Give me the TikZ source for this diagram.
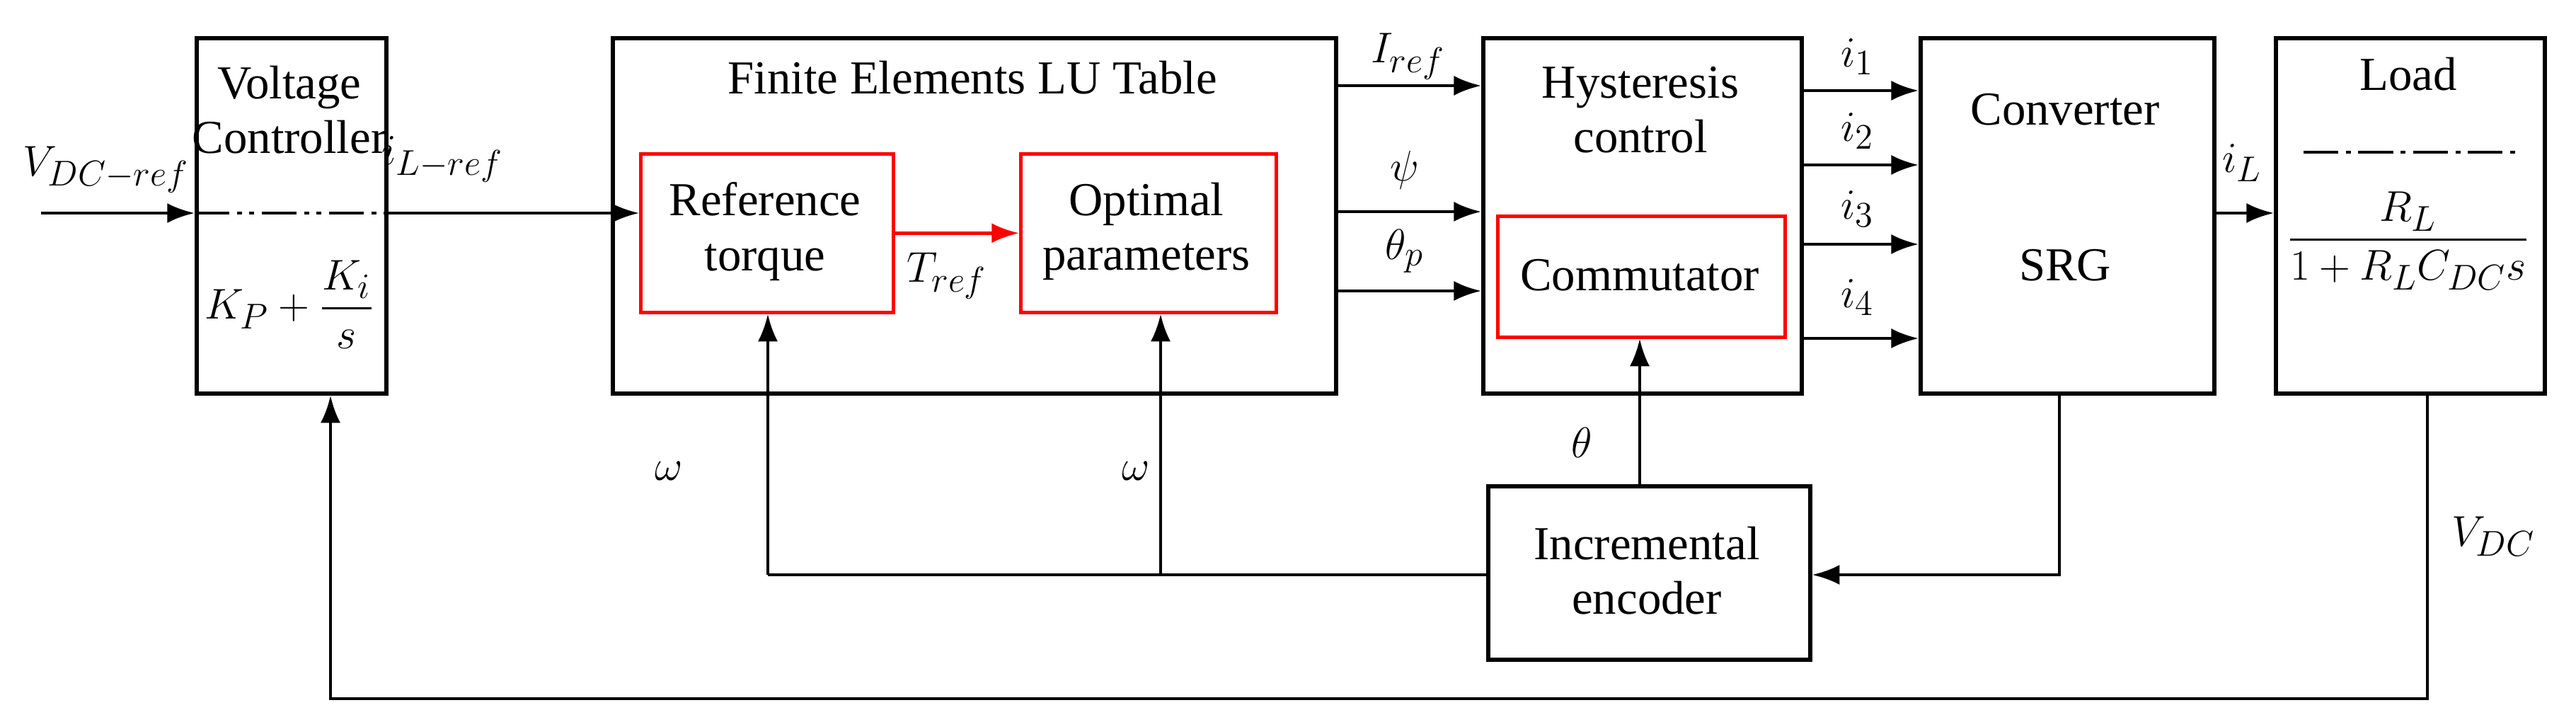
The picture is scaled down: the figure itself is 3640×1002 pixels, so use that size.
\documentclass[tikz,border=0pt]{standalone}
\usepackage{amsmath}
\usepackage{fontspec}
\setmainfont{Liberation Serif}
\usetikzlibrary{arrows.meta}
\begin{document}
\begin{tikzpicture}[x=0.01cm,y=-0.01cm,
  blk/.style={draw,line width=1.6pt},
  red/.style={draw=red,line width=1.3pt},
  ln/.style={line width=1.3pt},
  ar/.style={line width=1.3pt,-{Latex[length=11pt,width=8pt]}},
  lbl/.style={font=\rmfamily\fontsize{19}{22}\selectfont,align=center,inner sep=0pt},
  every node/.style={font=\rmfamily\fontsize{19}{22}\selectfont}]
\useasboundingbox (0,0) rectangle (3640,1002);
% blocks
\node[blk,minimum width=268*0.01cm,minimum height=502*0.01cm,anchor=north west] (vc) at (275,51) {};
\node[blk,minimum width=1022*0.01cm,minimum height=502*0.01cm,anchor=north west] (fe) at (863,51) {};
\node[red,minimum width=357*0.01cm,minimum height=224*0.01cm,anchor=north west] (rt) at (903,215) {};
\node[red,minimum width=361*0.01cm,minimum height=224*0.01cm,anchor=north west] (op) at (1440,215) {};
\node[blk,minimum width=450*0.01cm,minimum height=502*0.01cm,anchor=north west] (hy) at (2093,51) {};
\node[red,minimum width=406*0.01cm,minimum height=171*0.01cm,anchor=north west] (cm) at (2114,303) {};
\node[blk,minimum width=415*0.01cm,minimum height=502*0.01cm,anchor=north west] (cv) at (2711,51) {};
\node[blk,minimum width=380*0.01cm,minimum height=502*0.01cm,anchor=north west] (ld) at (3213,51) {};
\node[blk,minimum width=455*0.01cm,minimum height=245*0.01cm,anchor=north west] (en) at (2100,684) {};
% texts
\node[lbl] (vct) at (409,155) {Voltage\\Controller};
\node[lbl] (vcf) at (409,430) {$K_P+\dfrac{K_i}{s}$};
\draw[line width=1pt,dash pattern=on 14pt off 3pt on 2pt off 3pt on 2pt off 3pt] (275,301) -- (543,301);
\node[lbl] (fet) at (1374,110) {Finite Elements LU Table};
\node[lbl] (rtt) at (1081,327) {Reference\\torque};
\node[lbl] (opt) at (1620,327) {Optimal\\parameters};
\node[lbl] (hyt) at (2318,155) {Hysteresis\\control};
\node[lbl] (cmt) at (2317,389) {Commutator};
\node[lbl] (cvt) at (2918,155) {Converter};
\node[lbl] (cvs) at (2918,375) {SRG};
\node[lbl] (ldt) at (3403,105) {Load};
\draw[line width=1pt,dash pattern=on 14pt off 3pt on 2pt off 3pt] (3255,215) -- (3555,215);
\node[lbl] (ldf) at (3403,340) {$\dfrac{R_L}{1+R_LC_{DC}s}$};
\node[lbl] (ent) at (2327,806) {Incremental\\encoder};
% input
\coordinate (in) at (58,301);
\draw[ar] (in) -- (vc.west|-in);
\node[lbl] at (150,240) {$V_{DC-ref}$};
\draw[ar] (vc.east|-in) -- (rt.west|-in);
\node[lbl] at (625,225) {$i_{L-ref}$};
\draw[ar,red] (rt.east|-op.center) -- (op.west);
\node[lbl] at (1338,390) {$T_{ref}$};
% FE -> hysteresis
\draw[ar] (fe.east|-0,121) -- (hy.west|-0,121); \node[lbl] at (1990,80) {$I_{ref}$};
\draw[ar] (fe.east|-0,299) -- (hy.west|-0,299); \node[lbl] at (1985,240) {$\psi$};
\draw[ar] (fe.east|-0,411) -- (hy.west|-0,411); \node[lbl] at (1985,355) {$\theta_p$};
% currents
\draw[ar] (hy.east|-0,128) -- (cv.west|-0,128); \node[lbl] at (2625,80) {$i_1$};
\draw[ar] (hy.east|-0,233) -- (cv.west|-0,233); \node[lbl] at (2625,185) {$i_2$};
\draw[ar] (hy.east|-0,345) -- (cv.west|-0,345); \node[lbl] at (2625,295) {$i_3$};
\draw[ar] (hy.east|-0,478) -- (cv.west|-0,478); \node[lbl] at (2625,420) {$i_4$};
\draw[ar] (cv.east|-in) -- (ld.west|-in); \node[lbl] at (3168,230) {$i_L$};
% encoder feedback
\draw[ar] (cv.south-|2910,0) |- (en.east|-0,812);
\draw[ar] (en.north-|2317,0) -- (cm.south-|2317,0);
\node[lbl] at (2235,625) {$\theta$};
\coordinate (ja) at (1640,812);
\draw[ln] (en.west|-ja) -- (1085,812);
\draw[ar] (1085,812) -- (rt.south-|1085,0);
\draw[ar] (ja) -- (op.south-|ja);
\node[lbl] at (945,665) {$\omega$};
\node[lbl] at (1605,665) {$\omega$};
% DC feedback
\draw[ar] (ld.south-|3430,0) |- (467,987) -- (vc.south-|467,0);
\node[lbl] at (3523,758) {$V_{DC}$};
\end{tikzpicture}
\end{document}
